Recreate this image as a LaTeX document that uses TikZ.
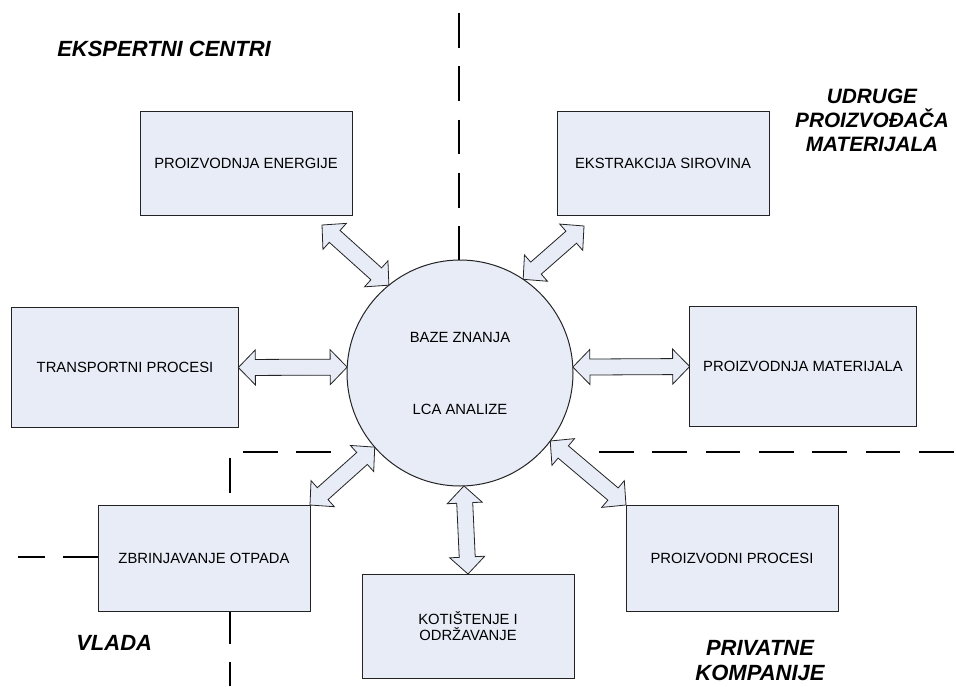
\documentclass[tikz,border=0pt]{standalone}
\usepackage{fontspec}
\setmainfont{Liberation Sans}
\usetikzlibrary{calc}
\definecolor{boxfill}{RGB}{231,236,247}
\definecolor{edge}{RGB}{35,35,35}
\newcommand\arrPH{45.8}
\newcommand\arrRH{18.3pt}
\newcommand\arrPW{25.2}
\newcommand\arrRW{14.1pt}
\newcommand\fatarrow[2]{%
  \draw[fatarr] let \p1=(#1), \p2=(#2), \n1={atan2(\y2-\y1,\x2-\x1)} in
    (\p1) -- ($(\p1)+({\n1+\arrPH}:\arrRH)$) -- ($(\p1)+({\n1+\arrPW}:\arrRW)$)
    -- ($(\p2)+({\n1+180-\arrPW}:\arrRW)$) -- ($(\p2)+({\n1+180-\arrPH}:\arrRH)$)
    -- (\p2)
    -- ($(\p2)+({\n1+180+\arrPH}:\arrRH)$) -- ($(\p2)+({\n1+180+\arrPW}:\arrRW)$)
    -- ($(\p1)+({\n1-\arrPW}:\arrRW)$) -- ($(\p1)+({\n1-\arrPH}:\arrRH)$) -- cycle;}
\begin{document}
\begin{tikzpicture}[x=0.75pt,y=-0.75pt,
  procbox/.style={draw=edge, fill=boxfill, line width=0.75pt, inner sep=0pt, outer sep=0pt,
    minimum width=159pt, minimum height=78pt, align=center,
    font=\fontsize{11.1}{12.5}\selectfont},
  widebox/.style={procbox, minimum width=170pt, minimum height=90pt},
  hub/.style={draw=edge, fill=boxfill, line width=0.75pt, circle, inner sep=0pt, outer sep=0pt,
    minimum size=169.5pt, align=center, font=\fontsize{11.1}{13.3}\selectfont},
  title/.style={font=\fontsize{16.5}{18.4}\selectfont\bfseries\itshape, inner sep=0pt, align=center},
  divider/.style={line width=1.5pt, dash pattern=on 26pt off 14pt},
  fatarr/.style={draw=edge, fill=boxfill, line width=0.6pt, line join=miter}]
\useasboundingbox (0,0) rectangle (956,686);
% region dividers
\draw[divider] (459,13) -- (459,262);
\draw[divider] (599,452) -- (956,452);
\draw[divider] (243,452) -- (332,452);
\draw[divider] (230,458) -- (230,505);
\draw[divider] (230,609) -- (230,686);
\draw[divider] (98,557) -- (18,557);
% titles
\node[title, anchor=north, font=\fontsize{15.6}{18}\selectfont\bfseries\itshape] (t2) at (872,89)
  {UDRUGE\\PROIZVOĐAČA\\MATERIJALA};
\node[title, anchor=base west] (t1) at (57,56) {EKSPERTNI CENTRI};
\node[title, anchor=base west] (t3) at (76,650) {VLADA};
\node[title, anchor=north, font=\fontsize{16.5}{19}\selectfont\bfseries\itshape] (t4) at (760,640) {PRIVATNE\\KOMPANIJE};
% nodes
\node[hub] (hub) at (460,373) {BAZE ZNANJA\\[40.7pt]LCA ANALIZE};
\node[procbox] (energ) at (246,163) {PROIZVODNJA ENERGIJE};
\node[procbox] (ekstr) at (663,163) {EKSTRAKCIJA SIROVINA};
\node[widebox] (transp) at (125,367.5) {TRANSPORTNI PROCESI};
\node[widebox] (mater) at (803,366.5) {PROIZVODNJA MATERIJALA};
\node[procbox, minimum height=79.5pt] (zbr) at (204,558) {ZBRINJAVANJE OTPADA};
\node[procbox] (kot) at (468,626) {KOTIŠTENJE I\\ODRŽAVANJE};
\node[procbox, minimum height=79.5pt] (proc) at (732,558) {PROIZVODNI PROCESI};
% connectors
\fatarrow{$(energ.south east)+(-30,10)$}{hub.129}
\fatarrow{$(ekstr.south west)+(27,11)$}{hub.56}
\fatarrow{transp.east}{hub.177.5}
\fatarrow{mater.west}{hub.3}
\fatarrow{zbr.north east}{hub.221}
\fatarrow{kot.north}{hub.272}
\fatarrow{proc.north west}{hub.323}
\end{tikzpicture}
\end{document}
